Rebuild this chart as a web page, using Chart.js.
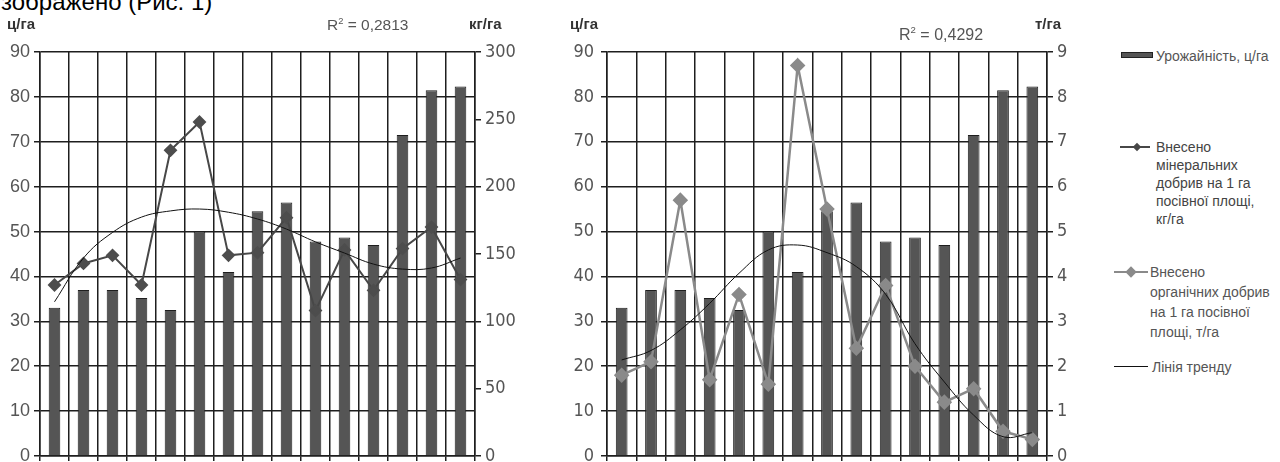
<!DOCTYPE html>
<html>
<head>
<meta charset="utf-8">
<script src="https://cdn.jsdelivr.net/npm/chart.js@4.4.1/dist/chart.umd.min.js"></script>
<style>
  body { margin: 0; background: #fff; width: 1280px; height: 462px; overflow: hidden; position: relative; font-family: 'Liberation Sans', Arial, sans-serif; }
  canvas { position: absolute; top: 0; }
  .txt { position: absolute; white-space: nowrap; }
  .unit { font-weight: bold; font-size: 15px; line-height: 16px; color: #333; }
  .r2 { color: #555; line-height: 18px; }
  .r2 sup { font-size: 0.6em; vertical-align: 0.7em; line-height: 0; }
  .leg { font-size: 14px; color: #555; }
</style>
</head>
<body>

<div class="txt" style="left:1px; top:-10px; font-size:24px; line-height:23px; color:#000;">зображено (Рис. 1)</div>

<canvas id="chartLeft" width="530" height="475" style="left:0"></canvas>
<canvas id="chartRight" width="520" height="475" style="left:560px"></canvas>

<div class="txt unit" style="left:7px; top:16px;">ц/га</div>
<div class="txt unit" style="left:469px; top:16px;">кг/га</div>
<div class="txt r2" style="left:327px; top:16px; font-size:15.5px;">R<sup>2</sup> = 0,2813</div>

<div class="txt unit" style="left:570px; top:16px;">ц/га</div>
<div class="txt unit" style="left:1035px; top:16px;">т/га</div>
<div class="txt r2" style="left:899px; top:26px; font-size:16px;">R<sup>2</sup> = 0,4292</div>

<!-- legend -->
<div style="position:absolute; left:1121px; top:52px; width:30px; height:4px; background:#555; border:1px solid #222;"></div>
<div class="txt leg" style="left:1156px; top:47px; line-height:18px;">Урожайність, ц/га</div>

<div style="position:absolute; left:1120px; top:146px; width:30px; height:2px; background:#474747;"></div>
<div style="position:absolute; left:1134px; top:144px; width:6px; height:6px; background:#474747; transform:rotate(45deg);"></div>
<div class="txt leg" style="left:1156px; top:138px; line-height:18px; color:#444;">Внесено<br>мінеральних<br>добрив на 1 га<br>посівної площі,<br>кг/га</div>

<div style="position:absolute; left:1114px; top:271px; width:34px; height:2px; background:#8a8a8a;"></div>
<div style="position:absolute; left:1127px; top:268px; width:8px; height:8px; background:#8a8a8a; transform:rotate(45deg);"></div>
<div class="txt leg" style="left:1150px; top:262px; line-height:20px;">Внесено<br>органічних добрив<br>на 1 га посівної<br>площі, т/га</div>

<div style="position:absolute; left:1114px; top:366px; width:34px; height:1px; background:#111;"></div>
<div class="txt leg" style="left:1152px; top:358px; line-height:18px;">Лінія тренду</div>

<script>
const categories = ['1', '2', '3', '4', '5', '6', '7', '8', '9', '10', '11', '12', '13', '14', '15'];

// урожайність, ц/га (same bars in both charts)
const yieldValues = [33, 37, 37, 35.2, 32.5, 50, 41, 54.5, 56.5, 47.8, 48.7, 47, 71.5, 81.5, 82.3];

// мінеральні добрива, кг/га + лінія тренду
const mineralValues = [127, 143, 149, 127, 227, 248, 149, 151, 177, 108, 153, 123, 154, 170, 131];
const mineralTrend = [114.5, 147, 166, 177.4, 182, 183.4, 181, 176, 168.5, 159, 150.7, 142.5, 138.8, 139.6, 147];

// органічні добрива, т/га + лінія тренду
const organicValues = [1.8, 2.1, 5.7, 1.7, 3.6, 1.6, 8.7, 5.5, 2.4, 3.8, 2.0, 1.2, 1.5, 0.55, 0.37];
const organicTrend = [2.14, 2.35, 2.81, 3.4, 4.07, 4.59, 4.7, 4.53, 4.22, 3.6, 2.5, 1.65, 0.91, 0.43, 0.52];

const GRID = '#1e1e1e';
const TICK = '#555';
const narrow = "'Liberation Sans Narrow', 'DejaVu Sans Condensed', Arial, sans-serif";
const regular = "'Liberation Sans', Arial, sans-serif";

function yieldBars() {
    return {
        type: 'bar',
        label: 'Урожайність, ц/га',
        data: yieldValues,
        yAxisID: 'y',
        backgroundColor: '#555',
        borderColor: '#1e1e1e',
        borderWidth: 1,
        barPercentage: 0.4,
        categoryPercentage: 1,
        order: 3
    };
}

function trendLine(values) {
    return {
        type: 'line',
        label: 'Лінія тренду',
        data: values,
        yAxisID: 'y1',
        borderColor: '#111',
        borderWidth: 1,
        pointRadius: 0,
        tension: 0.4,
        order: 1
    };
}

function drawChart(id, datasets, ax) {
    return new Chart(document.getElementById(id), {
        data: { labels: categories, datasets: datasets },
        options: {
            responsive: false,
            animation: false,
            devicePixelRatio: 1,
            layout: { padding: { top: 52, left: 0, right: 0, bottom: 0 } },
            plugins: { legend: { display: false }, tooltip: { enabled: false } },
            scales: {
                x: {
                    offset: true,
                    grid: { offset: true, color: GRID, lineWidth: 1.5, tickLength: 5 },
                    border: { color: GRID, width: 1.5 },
                    ticks: { display: false },
                    afterFit: s => { s.height = 19; }
                },
                y: {
                    position: 'left',
                    min: 0, max: 90,
                    ticks: { stepSize: 10, color: TICK, padding: ax.leftPad, font: ax.leftFont },
                    grid: { color: GRID, lineWidth: 1.5, tickLength: 6 },
                    border: { color: GRID, width: 1.5 },
                    afterFit: s => { s.width = ax.leftWidth; }
                },
                y1: {
                    position: 'right',
                    min: 0, max: ax.rightMax,
                    ticks: { stepSize: ax.rightStep, color: TICK, padding: 4, font: { family: narrow, size: 18 } },
                    grid: { drawOnChartArea: false, color: GRID, lineWidth: 1.5, tickLength: 6 },
                    border: { color: GRID, width: 1.5 },
                    afterFit: s => { s.width = ax.rightWidth; }
                }
            }
        }
    });
}

drawChart('chartLeft', [
    yieldBars(),
    {
        type: 'line',
        label: 'Внесено мінеральних добрив на 1 га посівної площі, кг/га',
        data: mineralValues,
        yAxisID: 'y1',
        borderColor: '#474747',
        borderWidth: 2,
        pointStyle: 'rectRot',
        pointRadius: 5.5,
        pointBackgroundColor: '#4d4d4d',
        pointBorderColor: '#4d4d4d',
        tension: 0,
        order: 2
    },
    trendLine(mineralTrend)
], { leftWidth: 40, rightWidth: 55, rightMax: 300, rightStep: 50, leftPad: 4, leftFont: { family: regular, size: 18 } });

drawChart('chartRight', [
    yieldBars(),
    {
        type: 'line',
        label: 'Внесено органічних добрив на 1 га посівної площі, т/га',
        data: organicValues,
        yAxisID: 'y1',
        borderColor: '#8a8a8a',
        borderWidth: 2.5,
        pointStyle: 'rectRot',
        pointRadius: 6,
        pointBackgroundColor: '#8a8a8a',
        pointBorderColor: '#8a8a8a',
        tension: 0,
        order: 2
    },
    trendLine(organicTrend)
], { leftWidth: 47, rightWidth: 33, rightMax: 9, rightStep: 1, leftPad: 7, leftFont: { family: narrow, size: 18 } });
</script>
</body>
</html>
